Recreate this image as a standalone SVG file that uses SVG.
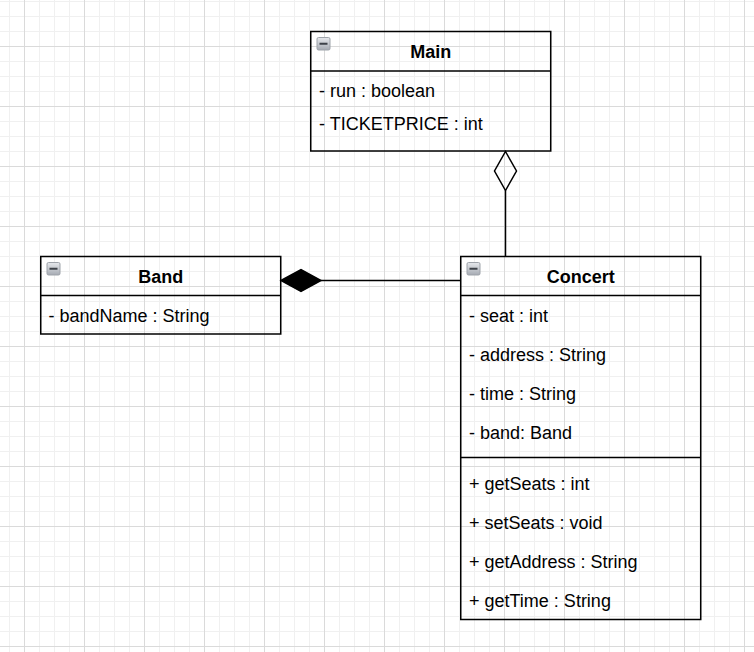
<svg xmlns="http://www.w3.org/2000/svg" width="754" height="652" viewBox="0 0 754 652">
  <defs>
    <pattern id="grid" x="24" y="46" width="60" height="60" patternUnits="userSpaceOnUse">
      <path d="M15.5 0V60M30.5 0V60M45.5 0V60M0 15.5H60M0 30.5H60M0 45.5H60" stroke="#f0f0f0" stroke-width="1" fill="none"/>
      <path d="M0.5 0V60M0 0.5H60" stroke="#dadada" stroke-width="1" fill="none"/>
    </pattern>
    <linearGradient id="icoGrad" x1="0" y1="0" x2="0" y2="1">
      <stop offset="0" stop-color="#e6e8ec"/>
      <stop offset="1" stop-color="#a6abb3"/>
    </linearGradient>
    <g id="collapse">
      <rect x="0" y="0" width="13" height="12.5" rx="1.5" fill="url(#icoGrad)" stroke="#9ea3aa" stroke-width="1"/>
      <rect x="2.5" y="5.25" width="8" height="2" fill="#3d4148"/>
    </g>
  </defs>
  <style>
    .box { fill: none; stroke: #000; stroke-width: 1.5; }
    .sep { stroke: #000; stroke-width: 1.5; fill: none; }
    .title { font-family: "Liberation Sans", Arial, sans-serif; font-size: 18px; font-weight: bold; fill: #000; text-anchor: middle; }
    .item { font-family: "Liberation Sans", Arial, sans-serif; font-size: 18px; fill: #000; }
    .conn { stroke: #000; stroke-width: 1.5; fill: none; }
  </style>
  <rect x="0" y="0" width="754" height="652" fill="#ffffff"/>
  <rect x="0" y="0" width="754" height="652" fill="url(#grid)"/>

  <g id="connectors">
    <path class="conn" d="M505.5 190.5V256.5"/>
    <path class="conn" d="M505.5 151.5L516.5 171L505.5 190.5L494.5 171Z" fill="#ffffff"/>
    <path class="conn" d="M320.5 280.5H460.5"/>
    <path d="M281 280.5L301 269.5L321 280.5L301 291.5Z" fill="#000" stroke="#000" stroke-width="1.5"/>
  </g>

  <g id="Main">
    <rect class="box" x="310.75" y="31.5" width="240" height="119.5"/>
    <path class="sep" d="M310.75 71H550.75"/>
    <use href="#collapse" x="317" y="37.5"/>
    <text class="title" x="430.75" y="57.5">Main</text>
    <text class="item" x="319" y="97.3">- run : boolean</text>
    <text class="item" x="319" y="130.3">- TICKETPRICE : int</text>
  </g>

  <g id="Band">
    <rect class="box" x="40.75" y="256.5" width="240" height="77.5"/>
    <path class="sep" d="M40.75 295.5H280.75"/>
    <use href="#collapse" x="47" y="262.5"/>
    <text class="title" x="160.75" y="282.5">Band</text>
    <text class="item" x="48.5" y="322.3">- bandName : String</text>
  </g>

  <g id="Concert">
    <rect class="box" x="460.75" y="256.5" width="240" height="363"/>
    <path class="sep" d="M460.75 295.5H700.75"/>
    <path class="sep" d="M460.75 457.5H700.75"/>
    <use href="#collapse" x="467" y="262.5"/>
    <text class="title" x="580.75" y="282.5">Concert</text>
    <text class="item" x="469" y="322.3">- seat : int</text>
    <text class="item" x="469" y="361.3">- address : String</text>
    <text class="item" x="469" y="400.3">- time : String</text>
    <text class="item" x="469" y="439.3">- band: Band</text>
    <text class="item" x="469" y="489.5">+ getSeats : int</text>
    <text class="item" x="469" y="528.5">+ setSeats : void</text>
    <text class="item" x="469" y="567.5">+ getAddress : String</text>
    <text class="item" x="469" y="606.5">+ getTime : String</text>
  </g>
</svg>
